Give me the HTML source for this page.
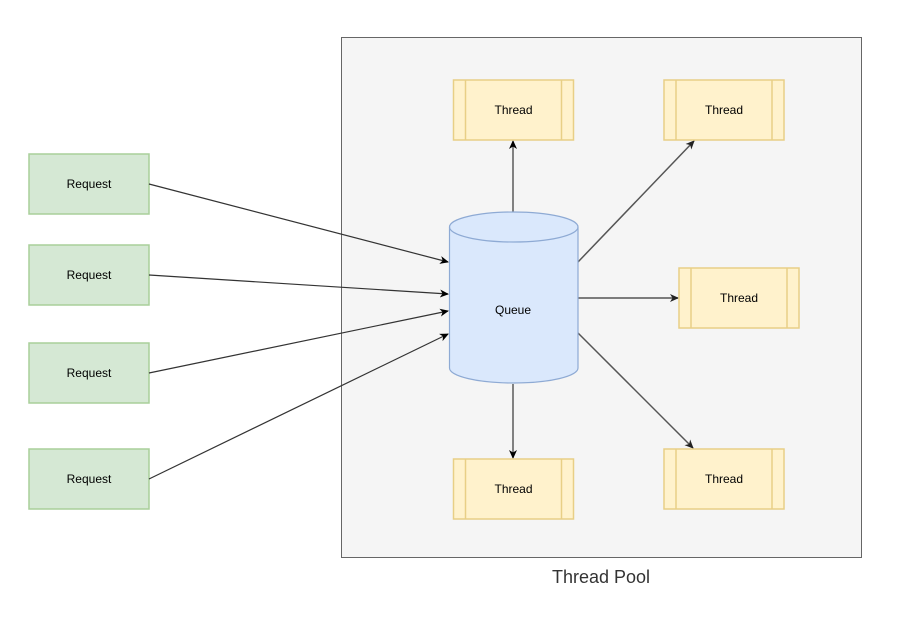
<!DOCTYPE html>
<html><head><meta charset="utf-8"><style>
html,body{margin:0;padding:0;background:#fff;}
svg{display:block;font-family:"Liberation Sans",Arial,sans-serif;}
</style></head><body>
<svg width="897" height="619" viewBox="0 0 897 619">
<defs>
<marker id="a" markerWidth="10" markerHeight="10" refX="8" refY="5" orient="auto" markerUnits="userSpaceOnUse">
<path d="M0,1 L9,5 L0,9 L2.5,5 Z" fill="#000"/>
</marker>
<marker id="g" markerWidth="10" markerHeight="10" refX="8" refY="5" orient="auto" markerUnits="userSpaceOnUse">
<path d="M0,1 L9,5 L0,9 L2.5,5 Z" fill="#222"/>
</marker>
</defs>
<rect x="341.5" y="37.5" width="520" height="520" fill="#f5f5f5" stroke="#666"/>
<text x="601" y="583" font-size="18" fill="#333" text-anchor="middle">Thread Pool</text>

<g fill="#d5e8d4" stroke="#a9cf9a" stroke-width="1.5" >
<rect x="29" y="154" width="120" height="60"/>
<rect x="29" y="245" width="120" height="60"/>
<rect x="29" y="343" width="120" height="60"/>
<rect x="29" y="449" width="120" height="60"/>
</g>
<g font-size="12" text-anchor="middle" fill="#000">
<text x="89" y="188">Request</text>
<text x="89" y="279">Request</text>
<text x="89" y="377">Request</text>
<text x="89" y="483">Request</text>
</g>

<g stroke="#333" stroke-width="1.2" fill="none" marker-end="url(#a)">
<line x1="149" y1="184" x2="448" y2="262"/>
<line x1="149" y1="275" x2="448" y2="294"/>
<line x1="149" y1="373" x2="448" y2="311"/>
<line x1="149" y1="479" x2="448" y2="334"/>
<line x1="513" y1="212" x2="513" y2="141"/>
<line x1="513" y1="384" x2="513" y2="458"/>
</g>
<g stroke="#555" stroke-width="1.5" fill="none" marker-end="url(#g)">
<line x1="578" y1="262" x2="694" y2="141"/>
<line x1="578" y1="298" x2="678" y2="298"/>
<line x1="578" y1="333" x2="693" y2="448"/>
</g>

<path d="M449.5,227 A64.25,15 0 0 1 578,227 L578,368 A64.25,15 0 0 1 449.5,368 Z" fill="#dae8fc" stroke="#8eaad4" stroke-width="1.2"/>
<path d="M449.5,227 A64.25,15 0 0 0 578,227" fill="none" stroke="#8eaad4" stroke-width="1.2"/>
<text x="513" y="314" font-size="12" text-anchor="middle">Queue</text>

<g fill="#fff2cc" stroke="#e8cf86" stroke-width="1.5">
<rect x="453.5" y="80" width="120" height="60"/>
<rect x="664" y="80" width="120" height="60"/>
<rect x="679" y="268" width="120" height="60"/>
<rect x="453.5" y="459" width="120" height="60"/>
<rect x="664" y="449" width="120" height="60"/>
</g>
<g stroke="#e8cf86" stroke-width="1.5">
<line x1="465.5" y1="80" x2="465.5" y2="140"/><line x1="561.5" y1="80" x2="561.5" y2="140"/>
<line x1="676" y1="80" x2="676" y2="140"/><line x1="772" y1="80" x2="772" y2="140"/>
<line x1="691" y1="268" x2="691" y2="328"/><line x1="787" y1="268" x2="787" y2="328"/>
<line x1="465.5" y1="459" x2="465.5" y2="519"/><line x1="561.5" y1="459" x2="561.5" y2="519"/>
<line x1="676" y1="449" x2="676" y2="509"/><line x1="772" y1="449" x2="772" y2="509"/>
</g>
<g font-size="12" text-anchor="middle" fill="#000">
<text x="513.5" y="114">Thread</text>
<text x="724" y="114">Thread</text>
<text x="739" y="302">Thread</text>
<text x="513.5" y="493">Thread</text>
<text x="724" y="483">Thread</text>
</g>
</svg>
</body></html>
